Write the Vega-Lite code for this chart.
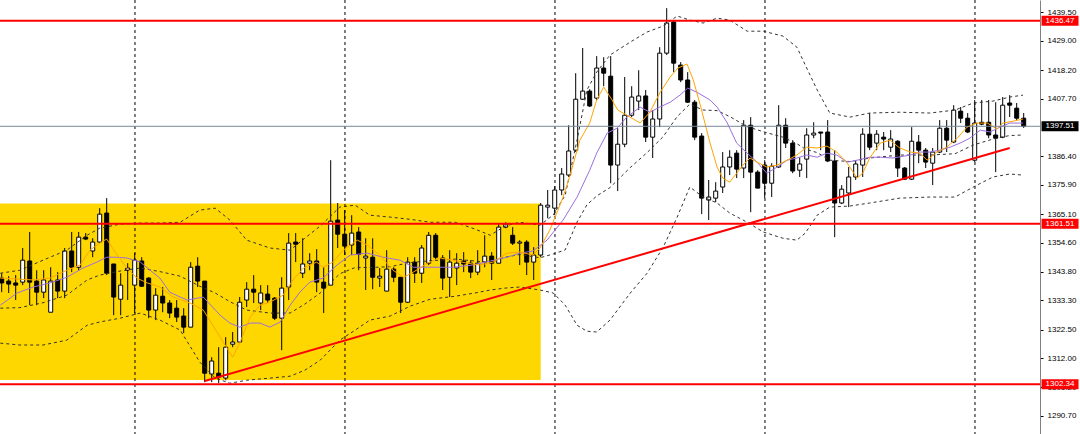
{
  "$schema": "https://vega.github.io/schema/vega-lite/v6.json",
  "width": 1040,
  "height": 434,
  "autosize": {"type": "none"},
  "padding": {"left": 0, "top": 0, "right": 40, "bottom": 0},
  "background": "white",
  "config": {
    "view": {"stroke": null},
    "axisX": {"disable": true},
    "axisY": {
      "labelFont": "Liberation Sans",
      "labelFontSize": 8,
      "labelColor": "black",
      "tickColor": "black",
      "tickSize": 3,
      "labelPadding": 4,
      "domainColor": "#808080",
      "domainWidth": 1,
      "grid": false
    }
  },
  "datasets": {
    "candles": [
      {"i":0,"o":1341.5,"h":1343.3,"l":1336.3,"c":1339.7},
      {"i":1,"o":1340.4,"h":1342.2,"l":1336.0,"c":1339.3},
      {"i":2,"o":1339.7,"h":1342.6,"l":1333.4,"c":1338.9},
      {"i":3,"o":1340.0,"h":1352.6,"l":1338.9,"c":1348.1},
      {"i":4,"o":1347.8,"h":1358.5,"l":1331.5,"c":1340.0},
      {"i":5,"o":1340.4,"h":1344.4,"l":1331.5,"c":1336.3},
      {"i":6,"o":1336.3,"h":1344.4,"l":1334.1,"c":1340.8},
      {"i":7,"o":1328.9,"h":1345.5,"l":1328.9,"c":1340.4},
      {"i":8,"o":1340.8,"h":1343.7,"l":1334.1,"c":1336.7},
      {"i":9,"o":1336.7,"h":1352.6,"l":1334.1,"c":1351.5},
      {"i":10,"o":1351.5,"h":1358.5,"l":1343.7,"c":1345.5},
      {"i":11,"o":1345.5,"h":1358.5,"l":1344.4,"c":1356.6},
      {"i":12,"o":1356.6,"h":1358.1,"l":1355.5,"c":1355.9},
      {"i":13,"o":1351.5,"h":1356.2,"l":1349.2,"c":1354.8},
      {"i":14,"o":1354.8,"h":1367.3,"l":1354.4,"c":1365.1},
      {"i":15,"o":1365.5,"h":1371.0,"l":1342.6,"c":1343.3},
      {"i":16,"o":1346.7,"h":1346.7,"l":1327.8,"c":1334.5},
      {"i":17,"o":1333.7,"h":1343.3,"l":1327.8,"c":1338.9},
      {"i":18,"o":1344.4,"h":1347.0,"l":1333.4,"c":1345.2},
      {"i":19,"o":1338.9,"h":1350.7,"l":1328.6,"c":1348.1},
      {"i":20,"o":1347.8,"h":1349.2,"l":1338.2,"c":1338.5},
      {"i":21,"o":1341.5,"h":1341.8,"l":1326.7,"c":1329.7},
      {"i":22,"o":1329.7,"h":1337.8,"l":1326.0,"c":1335.2},
      {"i":23,"o":1334.8,"h":1338.2,"l":1328.9,"c":1332.3},
      {"i":24,"o":1332.3,"h":1333.4,"l":1326.7,"c":1328.6},
      {"i":25,"o":1330.4,"h":1333.4,"l":1325.3,"c":1327.1},
      {"i":26,"o":1327.5,"h":1330.4,"l":1321.2,"c":1323.4},
      {"i":27,"o":1323.4,"h":1347.4,"l":1323.4,"c":1345.5},
      {"i":28,"o":1345.9,"h":1349.2,"l":1338.2,"c":1340.4},
      {"i":29,"o":1340.4,"h":1340.4,"l":1303.1,"c":1306.4},
      {"i":30,"o":1306.1,"h":1312.3,"l":1303.1,"c":1310.9},
      {"i":31,"o":1306.4,"h":1316.0,"l":1302.7,"c":1305.0},
      {"i":32,"o":1304.6,"h":1319.7,"l":1303.8,"c":1316.0},
      {"i":33,"o":1317.1,"h":1321.6,"l":1316.0,"c":1317.9},
      {"i":34,"o":1317.9,"h":1334.5,"l":1317.9,"c":1332.6},
      {"i":35,"o":1333.4,"h":1340.0,"l":1330.8,"c":1337.4},
      {"i":36,"o":1337.4,"h":1342.6,"l":1332.3,"c":1336.3},
      {"i":37,"o":1332.3,"h":1338.9,"l":1329.7,"c":1336.0},
      {"i":38,"o":1335.6,"h":1338.9,"l":1332.3,"c":1333.4},
      {"i":39,"o":1334.1,"h":1334.5,"l":1326.0,"c":1326.7},
      {"i":40,"o":1326.7,"h":1341.8,"l":1314.9,"c":1337.8},
      {"i":41,"o":1338.2,"h":1358.1,"l":1333.4,"c":1354.4},
      {"i":42,"o":1354.8,"h":1358.1,"l":1347.4,"c":1354.0},
      {"i":43,"o":1343.3,"h":1356.2,"l":1341.5,"c":1346.7},
      {"i":44,"o":1347.0,"h":1350.7,"l":1344.4,"c":1347.8},
      {"i":45,"o":1347.8,"h":1352.2,"l":1336.3,"c":1340.0},
      {"i":46,"o":1340.0,"h":1345.5,"l":1328.6,"c":1337.8},
      {"i":47,"o":1338.9,"h":1385.0,"l":1338.9,"c":1362.5},
      {"i":48,"o":1362.9,"h":1369.2,"l":1352.6,"c":1357.7},
      {"i":49,"o":1357.7,"h":1366.6,"l":1350.0,"c":1353.3},
      {"i":50,"o":1353.7,"h":1364.7,"l":1350.0,"c":1358.1},
      {"i":51,"o":1358.5,"h":1360.3,"l":1344.4,"c":1350.3},
      {"i":52,"o":1348.9,"h":1356.2,"l":1337.1,"c":1349.6},
      {"i":53,"o":1349.2,"h":1356.2,"l":1337.4,"c":1341.8},
      {"i":54,"o":1341.5,"h":1345.2,"l":1338.2,"c":1342.2},
      {"i":55,"o":1336.7,"h":1351.8,"l":1336.7,"c":1344.8},
      {"i":56,"o":1344.8,"h":1345.5,"l":1340.0,"c":1341.8},
      {"i":57,"o":1341.8,"h":1341.8,"l":1328.6,"c":1332.6},
      {"i":58,"o":1332.6,"h":1349.2,"l":1332.3,"c":1347.4},
      {"i":59,"o":1347.4,"h":1349.2,"l":1339.7,"c":1343.3},
      {"i":60,"o":1343.3,"h":1353.7,"l":1339.7,"c":1352.6},
      {"i":61,"o":1347.0,"h":1358.5,"l":1346.3,"c":1357.3},
      {"i":62,"o":1357.3,"h":1358.1,"l":1348.1,"c":1349.2},
      {"i":63,"o":1348.9,"h":1350.0,"l":1337.1,"c":1341.5},
      {"i":64,"o":1341.8,"h":1351.8,"l":1334.5,"c":1347.4},
      {"i":65,"o":1345.2,"h":1350.7,"l":1338.9,"c":1347.0},
      {"i":66,"o":1347.8,"h":1351.1,"l":1343.7,"c":1346.7},
      {"i":67,"o":1347.0,"h":1348.1,"l":1341.5,"c":1343.7},
      {"i":68,"o":1343.7,"h":1351.8,"l":1342.6,"c":1347.0},
      {"i":69,"o":1347.4,"h":1357.3,"l":1345.5,"c":1349.6},
      {"i":70,"o":1349.6,"h":1351.1,"l":1340.8,"c":1347.0},
      {"i":71,"o":1347.0,"h":1361.8,"l":1347.0,"c":1360.3},
      {"i":72,"o":1360.3,"h":1362.1,"l":1359.9,"c":1361.4},
      {"i":73,"o":1357.3,"h":1360.3,"l":1353.7,"c":1354.4},
      {"i":74,"o":1354.4,"h":1355.5,"l":1346.3,"c":1354.8},
      {"i":75,"o":1354.8,"h":1355.5,"l":1342.6,"c":1347.4},
      {"i":76,"o":1347.4,"h":1352.9,"l":1340.8,"c":1350.0},
      {"i":77,"o":1350.0,"h":1369.2,"l":1349.2,"c":1368.4},
      {"i":78,"o":1367.7,"h":1374.0,"l":1363.6,"c":1368.4},
      {"i":79,"o":1367.3,"h":1375.4,"l":1364.7,"c":1374.0},
      {"i":80,"o":1374.0,"h":1382.1,"l":1372.1,"c":1379.9},
      {"i":81,"o":1379.5,"h":1397.9,"l":1378.8,"c":1388.4},
      {"i":82,"o":1388.7,"h":1417.1,"l":1388.0,"c":1407.5},
      {"i":83,"o":1407.5,"h":1426.4,"l":1407.2,"c":1410.5},
      {"i":84,"o":1410.5,"h":1411.2,"l":1404.6,"c":1405.0},
      {"i":85,"o":1407.9,"h":1423.4,"l":1407.2,"c":1419.0},
      {"i":86,"o":1419.0,"h":1423.0,"l":1412.3,"c":1417.1},
      {"i":87,"o":1416.0,"h":1423.4,"l":1376.5,"c":1383.2},
      {"i":88,"o":1383.2,"h":1396.8,"l":1373.6,"c":1390.9},
      {"i":89,"o":1390.9,"h":1415.7,"l":1389.8,"c":1401.6},
      {"i":90,"o":1401.6,"h":1412.3,"l":1400.9,"c":1408.3},
      {"i":91,"o":1406.8,"h":1418.2,"l":1403.5,"c":1408.7},
      {"i":92,"o":1408.7,"h":1410.9,"l":1391.7,"c":1393.5},
      {"i":93,"o":1393.5,"h":1403.5,"l":1385.8,"c":1400.2},
      {"i":94,"o":1400.2,"h":1426.7,"l":1397.2,"c":1424.5},
      {"i":95,"o":1424.5,"h":1441.1,"l":1423.8,"c":1435.6},
      {"i":96,"o":1436.0,"h":1436.7,"l":1417.5,"c":1420.8},
      {"i":97,"o":1420.1,"h":1421.2,"l":1413.8,"c":1414.6},
      {"i":98,"o":1414.6,"h":1417.5,"l":1406.1,"c":1406.4},
      {"i":99,"o":1406.4,"h":1407.2,"l":1392.4,"c":1393.5},
      {"i":100,"o":1393.9,"h":1395.0,"l":1365.1,"c":1371.0},
      {"i":101,"o":1370.3,"h":1377.7,"l":1362.9,"c":1371.4},
      {"i":102,"o":1371.0,"h":1376.9,"l":1369.5,"c":1373.6},
      {"i":103,"o":1375.1,"h":1388.0,"l":1372.9,"c":1382.5},
      {"i":104,"o":1382.5,"h":1388.7,"l":1379.5,"c":1386.1},
      {"i":105,"o":1387.6,"h":1388.7,"l":1378.4,"c":1381.7},
      {"i":106,"o":1382.1,"h":1399.8,"l":1378.4,"c":1397.9},
      {"i":107,"o":1397.9,"h":1400.9,"l":1365.8,"c":1380.6},
      {"i":108,"o":1380.6,"h":1381.3,"l":1374.7,"c":1374.7},
      {"i":109,"o":1383.2,"h":1385.0,"l":1371.0,"c":1376.5},
      {"i":110,"o":1376.5,"h":1383.9,"l":1371.4,"c":1382.8},
      {"i":111,"o":1382.5,"h":1405.3,"l":1382.1,"c":1397.9},
      {"i":112,"o":1397.9,"h":1400.5,"l":1389.5,"c":1391.3},
      {"i":113,"o":1391.3,"h":1392.4,"l":1380.2,"c":1381.0},
      {"i":114,"o":1381.3,"h":1386.1,"l":1378.8,"c":1383.6},
      {"i":115,"o":1385.4,"h":1396.8,"l":1378.4,"c":1394.3},
      {"i":116,"o":1394.3,"h":1399.0,"l":1393.1,"c":1395.0},
      {"i":117,"o":1395.4,"h":1395.4,"l":1388.7,"c":1395.0},
      {"i":118,"o":1395.4,"h":1399.8,"l":1384.3,"c":1384.7},
      {"i":119,"o":1384.7,"h":1388.7,"l":1356.6,"c":1369.2},
      {"i":120,"o":1369.2,"h":1375.8,"l":1368.8,"c":1374.3},
      {"i":121,"o":1372.9,"h":1382.5,"l":1367.7,"c":1378.8},
      {"i":122,"o":1378.8,"h":1385.0,"l":1377.7,"c":1383.6},
      {"i":123,"o":1383.2,"h":1396.8,"l":1378.8,"c":1394.6},
      {"i":124,"o":1394.6,"h":1402.4,"l":1388.7,"c":1389.8},
      {"i":125,"o":1391.3,"h":1396.1,"l":1388.7,"c":1394.6},
      {"i":126,"o":1393.5,"h":1395.4,"l":1388.7,"c":1392.8},
      {"i":127,"o":1389.8,"h":1396.1,"l":1388.0,"c":1392.8},
      {"i":128,"o":1392.0,"h":1392.4,"l":1378.8,"c":1382.1},
      {"i":129,"o":1382.1,"h":1382.5,"l":1377.7,"c":1378.0},
      {"i":130,"o":1378.0,"h":1397.2,"l":1377.7,"c":1392.0},
      {"i":131,"o":1391.7,"h":1394.3,"l":1383.9,"c":1388.7},
      {"i":132,"o":1388.7,"h":1389.5,"l":1382.1,"c":1384.3},
      {"i":133,"o":1383.9,"h":1389.5,"l":1375.8,"c":1388.0},
      {"i":134,"o":1388.0,"h":1399.8,"l":1387.6,"c":1396.8},
      {"i":135,"o":1396.8,"h":1399.8,"l":1388.0,"c":1392.4},
      {"i":136,"o":1391.7,"h":1405.3,"l":1391.3,"c":1403.5},
      {"i":137,"o":1403.1,"h":1404.6,"l":1398.7,"c":1400.5},
      {"i":138,"o":1400.5,"h":1402.4,"l":1395.0,"c":1395.4},
      {"i":139,"o":1385.0,"h":1407.2,"l":1384.3,"c":1398.7},
      {"i":140,"o":1399.0,"h":1407.2,"l":1397.9,"c":1398.3},
      {"i":141,"o":1399.0,"h":1407.2,"l":1393.1,"c":1394.3},
      {"i":142,"o":1394.3,"h":1406.4,"l":1380.6,"c":1393.1},
      {"i":143,"o":1393.5,"h":1408.3,"l":1393.1,"c":1405.3},
      {"i":144,"o":1406.1,"h":1409.0,"l":1400.9,"c":1405.3},
      {"i":145,"o":1404.2,"h":1406.1,"l":1399.8,"c":1400.5},
      {"i":146,"o":1400.5,"h":1402.4,"l":1396.9,"c":1397.51}
    ],
    "bands": [
      {"i":-0.2,"u":1343.3,"m":1330.4,"l":1317.5},
      {"i":2.6,"u":1344.4,"m":1330.6,"l":1316.8},
      {"i":5.9,"u":1348.1,"m":1332.4,"l":1316.8},
      {"i":9.3,"u":1351.8,"m":1335.2,"l":1318.6},
      {"i":12.2,"u":1357.3,"m":1340.8,"l":1324.1},
      {"i":14.0,"u":1359.9,"m":1342.6,"l":1325.3},
      {"i":16.9,"u":1361.4,"m":1344.1,"l":1326.7},
      {"i":19.8,"u":1361.8,"m":1345.2,"l":1328.6},
      {"i":22.6,"u":1361.8,"m":1343.9,"l":1326.0},
      {"i":25.5,"u":1362.1,"m":1342.2,"l":1322.3},
      {"i":28.3,"u":1366.6,"m":1338.5,"l":1310.5},
      {"i":30.5,"u":1367.3,"m":1336.0,"l":1304.6},
      {"i":32.6,"u":1362.9,"m":1332.8,"l":1302.7},
      {"i":35.0,"u":1355.5,"m":1329.7,"l":1303.8},
      {"i":38.3,"u":1352.6,"m":1328.6,"l":1304.6},
      {"i":41.2,"u":1351.8,"m":1328.6,"l":1305.3},
      {"i":43.3,"u":1356.2,"m":1331.9,"l":1307.5},
      {"i":45.5,"u":1360.7,"m":1336.0,"l":1311.2},
      {"i":48.3,"u":1367.7,"m":1343.1,"l":1318.6},
      {"i":50.5,"u":1368.4,"m":1345.4,"l":1322.3},
      {"i":52.6,"u":1364.7,"m":1345.4,"l":1326.0},
      {"i":55.5,"u":1364.0,"m":1345.7,"l":1327.5},
      {"i":58.3,"u":1363.2,"m":1347.2,"l":1331.1},
      {"i":61.2,"u":1362.1,"m":1347.9,"l":1333.7},
      {"i":64.8,"u":1362.1,"m":1348.5,"l":1334.8},
      {"i":67.6,"u":1359.6,"m":1347.8,"l":1336.0},
      {"i":69.8,"u":1357.3,"m":1347.2,"l":1337.1},
      {"i":71.9,"u":1360.7,"m":1349.2,"l":1337.8},
      {"i":74.0,"u":1362.1,"m":1350.2,"l":1338.2},
      {"i":76.9,"u":1361.0,"m":1349.0,"l":1337.1},
      {"i":78.8,"u":1364.8,"m":1350.4,"l":1336.0},
      {"i":80.5,"u":1372.1,"m":1351.9,"l":1331.5},
      {"i":82.2,"u":1392.5,"m":1362.2,"l":1324.1},
      {"i":83.6,"u":1410.9,"m":1368.5,"l":1321.9},
      {"i":85.0,"u":1417.5,"m":1371.8,"l":1321.6},
      {"i":86.9,"u":1423.8,"m":1374.9,"l":1326.0},
      {"i":89.8,"u":1428.6,"m":1382.3,"l":1336.0},
      {"i":92.2,"u":1432.3,"m":1387.8,"l":1343.3},
      {"i":94.5,"u":1434.5,"m":1393.7,"l":1352.9},
      {"i":96.5,"u":1438.2,"m":1401.1,"l":1364.0},
      {"i":98.3,"u":1436.7,"m":1405.7,"l":1375.1},
      {"i":100.2,"u":1435.6,"m":1403.5,"l":1371.4},
      {"i":102.2,"u":1437.4,"m":1403.3,"l":1369.2},
      {"i":104.0,"u":1436.7,"m":1401.1,"l":1365.5},
      {"i":106.5,"u":1432.6,"m":1397.4,"l":1362.1},
      {"i":108.8,"u":1432.6,"m":1395.5,"l":1358.5},
      {"i":111.6,"u":1430.8,"m":1393.5,"l":1356.2},
      {"i":113.6,"u":1426.7,"m":1391.1,"l":1355.5},
      {"i":114.8,"u":1420.1,"m":1389.1,"l":1358.1},
      {"i":116.5,"u":1410.9,"m":1387.8,"l":1364.7},
      {"i":118.3,"u":1402.4,"m":1385.0,"l":1367.7},
      {"i":121.2,"u":1400.9,"m":1384.5,"l":1368.1},
      {"i":124.0,"u":1402.4,"m":1385.8,"l":1369.2},
      {"i":128.3,"u":1402.7,"m":1386.9,"l":1371.0},
      {"i":132.6,"u":1402.4,"m":1386.9,"l":1371.4},
      {"i":136.2,"u":1403.5,"m":1387.4,"l":1371.4},
      {"i":138.8,"u":1406.1,"m":1390.6,"l":1375.1},
      {"i":141.6,"u":1406.8,"m":1392.8,"l":1378.8},
      {"i":144.0,"u":1408.3,"m":1394.1,"l":1379.9},
      {"i":145.9,"u":1409.0,"m":1394.3,"l":1379.5}
    ],
    "fast": [
      {"i":-0.2,"v":1341.5},{"i":4.5,"v":1340.8},{"i":6.9,"v":1341.5},{"i":9.3,"v":1344.4},
      {"i":11.2,"v":1346.3},{"i":12.6,"v":1351.8},{"i":14.0,"v":1354.4},{"i":15.0,"v":1355.9},
      {"i":16.2,"v":1351.1},{"i":17.9,"v":1345.2},{"i":19.3,"v":1341.5},{"i":20.8,"v":1339.7},
      {"i":22.6,"v":1338.2},{"i":24.5,"v":1334.5},{"i":26.9,"v":1332.3},{"i":28.8,"v":1329.7},
      {"i":31.2,"v":1319.7},{"i":33.0,"v":1312.3},{"i":34.0,"v":1317.5},{"i":35.5,"v":1327.1},
      {"i":36.9,"v":1331.5},{"i":38.3,"v":1332.6},{"i":40.2,"v":1335.2},{"i":41.6,"v":1340.8},
      {"i":43.1,"v":1345.2},{"i":45.0,"v":1347.4},{"i":45.9,"v":1345.5},{"i":47.3,"v":1347.4},
      {"i":48.8,"v":1351.8},{"i":50.8,"v":1355.5},{"i":52.2,"v":1353.7},{"i":54.0,"v":1350.0},
      {"i":55.9,"v":1344.4},{"i":57.4,"v":1341.8},{"i":58.8,"v":1343.7},{"i":60.8,"v":1347.0},
      {"i":62.6,"v":1348.9},{"i":64.5,"v":1348.1},{"i":66.5,"v":1347.0},{"i":68.3,"v":1346.3},
      {"i":70.2,"v":1347.4},{"i":72.2,"v":1350.7},{"i":74.0,"v":1351.1},{"i":75.9,"v":1350.0},
      {"i":76.9,"v":1352.6},{"i":78.3,"v":1359.2},{"i":79.3,"v":1365.5},{"i":80.2,"v":1371.4},
      {"i":81.2,"v":1379.5},{"i":82.6,"v":1392.4},{"i":84.0,"v":1398.7},{"i":85.0,"v":1407.2},
      {"i":86.0,"v":1412.0},{"i":87.2,"v":1407.2},{"i":88.0,"v":1403.5},{"i":89.3,"v":1401.6},
      {"i":91.2,"v":1398.7},{"i":92.6,"v":1402.7},{"i":94.0,"v":1409.8},{"i":95.5,"v":1415.7},
      {"i":96.6,"v":1419.0},{"i":97.9,"v":1420.5},{"i":98.8,"v":1414.6},{"i":99.8,"v":1405.3},
      {"i":101.2,"v":1391.3},{"i":102.2,"v":1382.5},{"i":103.0,"v":1378.4},{"i":104.0,"v":1376.9},
      {"i":105.0,"v":1380.2},{"i":105.9,"v":1383.2},{"i":106.9,"v":1385.8},{"i":107.9,"v":1384.3},
      {"i":109.3,"v":1382.5},{"i":110.8,"v":1383.2},{"i":112.2,"v":1385.0},{"i":113.6,"v":1386.9},
      {"i":115.0,"v":1389.8},{"i":116.5,"v":1389.5},{"i":117.9,"v":1390.2},{"i":119.3,"v":1388.0},
      {"i":120.8,"v":1383.9},{"i":122.2,"v":1378.4},{"i":123.0,"v":1380.2},{"i":124.0,"v":1385.8},
      {"i":125.5,"v":1391.3},{"i":126.9,"v":1392.4},{"i":128.3,"v":1389.5},{"i":129.8,"v":1388.0},
      {"i":131.2,"v":1387.6},{"i":132.2,"v":1385.0},{"i":133.6,"v":1388.0},{"i":135.0,"v":1389.8},
      {"i":136.5,"v":1393.1},{"i":137.9,"v":1397.2},{"i":139.3,"v":1398.7},{"i":140.8,"v":1398.7},
      {"i":142.2,"v":1396.5},{"i":143.0,"v":1398.7},{"i":144.5,"v":1399.4},{"i":145.9,"v":1400.2}
    ],
    "slow": [
      {"i":-0.2,"v":1331.5},{"i":2.2,"v":1336.0},{"i":4.5,"v":1338.2},{"i":6.9,"v":1339.7},
      {"i":9.3,"v":1341.8},{"i":11.6,"v":1345.2},{"i":13.6,"v":1347.4},{"i":15.0,"v":1349.2},
      {"i":16.2,"v":1349.2},{"i":17.9,"v":1348.9},{"i":19.8,"v":1347.4},{"i":21.2,"v":1344.4},
      {"i":22.6,"v":1341.5},{"i":24.0,"v":1336.3},{"i":25.5,"v":1334.5},{"i":26.5,"v":1333.4},
      {"i":28.8,"v":1334.5},{"i":31.2,"v":1327.8},{"i":32.6,"v":1324.9},{"i":34.0,"v":1323.4},
      {"i":35.5,"v":1324.9},{"i":36.9,"v":1324.9},{"i":38.3,"v":1323.4},{"i":39.8,"v":1325.3},
      {"i":41.2,"v":1331.5},{"i":42.6,"v":1336.3},{"i":44.0,"v":1340.0},{"i":45.9,"v":1341.5},
      {"i":47.9,"v":1346.3},{"i":49.8,"v":1350.0},{"i":52.2,"v":1350.7},{"i":54.5,"v":1349.2},
      {"i":56.9,"v":1348.1},{"i":58.8,"v":1345.5},{"i":60.8,"v":1345.5},{"i":62.6,"v":1345.5},
      {"i":64.5,"v":1345.5},{"i":67.3,"v":1346.3},{"i":69.8,"v":1347.8},{"i":72.2,"v":1349.2},
      {"i":74.0,"v":1350.7},{"i":75.9,"v":1351.5},{"i":77.9,"v":1355.5},{"i":80.2,"v":1362.9},
      {"i":82.2,"v":1371.4},{"i":84.0,"v":1381.3},{"i":85.0,"v":1387.6},{"i":86.5,"v":1395.0},
      {"i":87.9,"v":1396.8},{"i":89.3,"v":1400.9},{"i":91.2,"v":1404.6},{"i":92.6,"v":1402.7},
      {"i":94.0,"v":1404.6},{"i":95.5,"v":1406.4},{"i":96.9,"v":1409.0},{"i":98.0,"v":1411.6},
      {"i":99.3,"v":1410.1},{"i":101.2,"v":1407.2},{"i":102.2,"v":1404.6},{"i":103.6,"v":1399.0},
      {"i":105.0,"v":1391.3},{"i":106.5,"v":1387.6},{"i":107.9,"v":1384.3},{"i":109.3,"v":1380.2},
      {"i":110.8,"v":1382.5},{"i":112.2,"v":1385.0},{"i":113.6,"v":1385.8},{"i":115.0,"v":1386.9},
      {"i":116.5,"v":1386.1},{"i":117.9,"v":1387.6},{"i":119.3,"v":1386.9},{"i":120.8,"v":1384.3},
      {"i":122.2,"v":1385.0},{"i":124.0,"v":1386.1},{"i":125.5,"v":1386.1},{"i":127.3,"v":1385.8},
      {"i":129.8,"v":1386.9},{"i":131.2,"v":1388.0},{"i":132.6,"v":1388.0},{"i":134.0,"v":1388.7},
      {"i":135.5,"v":1389.8},{"i":136.9,"v":1391.3},{"i":138.3,"v":1393.1},{"i":139.8,"v":1396.1},
      {"i":141.2,"v":1395.4},{"i":142.6,"v":1397.2},{"i":144.0,"v":1398.7},{"i":145.9,"v":1398.7}
    ],
    "levels": [{"p":1436.47},{"p":1361.51},{"p":1302.34}],
    "last": [{"p":1397.51}],
    "zone": [{"a":-0.243,"b":77.0,"lo":1303.9,"hi":1369.0}],
    "trend": [{"a":29.0,"pa":1303.5,"b":144.0,"pb":1389.5}],
    "grid": [{"g":19.04},{"g":49.04},{"g":79.04},{"g":109.04},{"g":139.04}]
  },
  "layer": [
    {
      "data": {"name": "zone"},
      "mark": {"type": "rect", "fill": "#FFD700"},
      "encoding": {
        "x": {"field": "a", "type": "quantitative", "scale": {"domain": [-0.243, 148.33], "nice": false, "zero": false, "padding": 0}, "axis": null},
        "x2": {"field": "b"},
        "y": {
          "field": "lo", "type": "quantitative",
          "scale": {"domain": [1283.97, 1444.11], "nice": false, "zero": false, "padding": 0},
          "axis": {
            "orient": "right", "title": null, "format": ".2f",
            "tickCount": 40,
            "labelOverlap": false, "labelBound": false, "labelFlush": false, "labelSeparation": 0,
            "values": [1290.7, 1301.2, 1312.0, 1322.5, 1333.3, 1343.8, 1354.6, 1365.1, 1375.9, 1386.4, 1407.7, 1418.2, 1429.0, 1439.5]
          }
        },
        "y2": {"field": "hi"}
      }
    },
    {
      "data": {"name": "grid"},
      "mark": {"type": "rule", "color": "#000000", "strokeWidth": 1, "strokeDash": [3, 3]},
      "encoding": {
        "x": {"field": "g", "type": "quantitative", "axis": null}
      }
    },
    {
      "data": {"name": "candles"},
      "mark": {"type": "rule", "color": "#000000", "strokeWidth": 1},
      "encoding": {
        "x": {"field": "i", "type": "quantitative", "axis": null},
        "y": {"field": "l", "type": "quantitative"},
        "y2": {"field": "h"}
      }
    },
    {
      "data": {"name": "candles"},
      "mark": {"type": "bar", "width": 4, "stroke": "#000000", "strokeWidth": 1},
      "encoding": {
        "x": {"field": "i", "type": "quantitative", "axis": null},
        "y": {"field": "o", "type": "quantitative"},
        "y2": {"field": "c"},
        "fill": {"condition": {"test": "datum.o > datum.c", "value": "#000000"}, "value": "#FFFFFF"}
      }
    },
    {
      "data": {"name": "bands"},
      "mark": {"type": "line", "color": "#333333", "strokeWidth": 1, "strokeDash": [3, 3]},
      "encoding": {
        "x": {"field": "i", "type": "quantitative", "axis": null},
        "y": {"field": "u", "type": "quantitative"}
      }
    },
    {
      "data": {"name": "bands"},
      "mark": {"type": "line", "color": "#333333", "strokeWidth": 1, "strokeDash": [3, 3]},
      "encoding": {
        "x": {"field": "i", "type": "quantitative", "axis": null},
        "y": {"field": "m", "type": "quantitative"}
      }
    },
    {
      "data": {"name": "bands"},
      "mark": {"type": "line", "color": "#333333", "strokeWidth": 1, "strokeDash": [3, 3]},
      "encoding": {
        "x": {"field": "i", "type": "quantitative", "axis": null},
        "y": {"field": "l", "type": "quantitative"}
      }
    },
    {
      "data": {"name": "slow"},
      "mark": {"type": "line", "color": "#9B6FE0", "strokeWidth": 1},
      "encoding": {
        "x": {"field": "i", "type": "quantitative", "axis": null},
        "y": {"field": "v", "type": "quantitative"}
      }
    },
    {
      "data": {"name": "fast"},
      "mark": {"type": "line", "color": "#FFA500", "strokeWidth": 1},
      "encoding": {
        "x": {"field": "i", "type": "quantitative", "axis": null},
        "y": {"field": "v", "type": "quantitative"}
      }
    },
    {
      "data": {"name": "last"},
      "mark": {"type": "rule", "color": "#778899", "strokeWidth": 1},
      "encoding": {
        "y": {"field": "p", "type": "quantitative"}
      }
    },
    {
      "data": {"name": "levels"},
      "mark": {"type": "rule", "color": "#FF0000", "strokeWidth": 2},
      "encoding": {
        "y": {"field": "p", "type": "quantitative"}
      }
    },
    {
      "data": {"name": "trend"},
      "mark": {"type": "rule", "color": "#FF0000", "strokeWidth": 2},
      "encoding": {
        "x": {"field": "a", "type": "quantitative", "axis": null},
        "x2": {"field": "b"},
        "y": {"field": "pa", "type": "quantitative"},
        "y2": {"field": "pb"}
      }
    },
    {
      "data": {"name": "levels"},
      "mark": {"type": "tick", "orient": "horizontal", "color": "#FF0000", "size": 37, "thickness": 10, "opacity": 1},
      "encoding": {
        "x": {"datum": 151.19, "type": "quantitative"},
        "y": {"field": "p", "type": "quantitative"}
      }
    },
    {
      "data": {"name": "last"},
      "mark": {"type": "tick", "orient": "horizontal", "color": "#000000", "size": 37, "thickness": 10, "opacity": 1},
      "encoding": {
        "x": {"datum": 151.19, "type": "quantitative"},
        "y": {"field": "p", "type": "quantitative"}
      }
    },
    {
      "data": {"name": "levels"},
      "mark": {"type": "text", "color": "#FFFFFF", "font": "Liberation Sans", "fontSize": 8, "align": "center", "baseline": "middle"},
      "encoding": {
        "x": {"datum": 151.19, "type": "quantitative"},
        "y": {"field": "p", "type": "quantitative"},
        "text": {"field": "p", "type": "quantitative", "format": ".2f"}
      }
    },
    {
      "data": {"name": "last"},
      "mark": {"type": "text", "color": "#FFFFFF", "font": "Liberation Sans", "fontSize": 8, "align": "center", "baseline": "middle"},
      "encoding": {
        "x": {"datum": 151.19, "type": "quantitative"},
        "y": {"field": "p", "type": "quantitative"},
        "text": {"field": "p", "type": "quantitative", "format": ".2f"}
      }
    }
  ]
}
